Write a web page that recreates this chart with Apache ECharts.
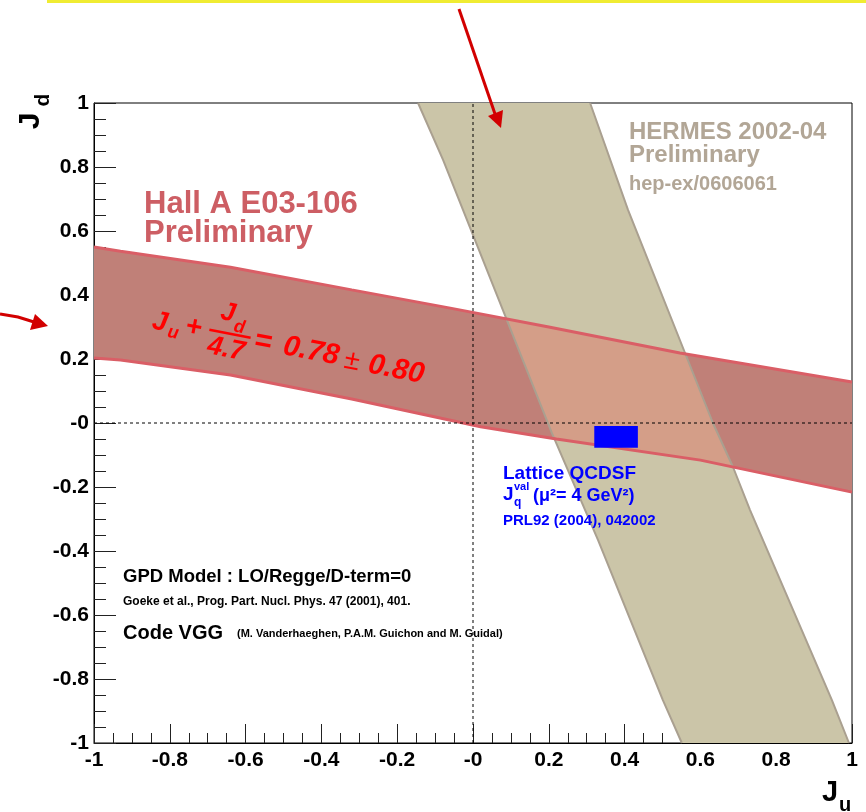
<!DOCTYPE html>
<html><head><meta charset="utf-8">
<script src="https://cdn.jsdelivr.net/npm/echarts@6/dist/echarts.min.js"></script>
<style>html,body{margin:0;padding:0;background:#fff}#c{width:866px;height:812px}</style>
</head><body><div id="c"></div>
<script>
const FONT = '"Liberation Sans", Arial, Helvetica, sans-serif';
// axis range / ticks
const axisMin = -1, axisMax = 1, tickStep = 0.2;
const zeroLabel = '-0';
// Hall A E03-106 band edges [Ju, Jd]
const hallUpper = [[-1,0.55],[-0.93,0.537],[-0.64,0.487],[-0.32,0.416],[-0.06,0.359],[0.2,0.30],[0.546,0.219],[1,0.128]];
const hallLower = [[-1,0.203],[-0.93,0.197],[-0.64,0.15],[-0.32,0.075],[0.02,-0.012],[0.22,-0.05],[0.6,-0.116],[1,-0.216]];
// HERMES band edges [Ju, Jd]
const hermesLeft = [[-0.145,1],[-0.079,0.822],[0.208,-0.031],[0.33,-0.366],[0.501,-0.866],[0.551,-1]];
const hermesRight = [[0.309,1],[0.409,0.666],[0.633,0],[0.686,-0.1375],[0.731,-0.272],[0.947,-0.866],[0.992,-1]];
// Lattice QCDSF box
const latticeJu = [0.32, 0.435];
const latticeJd = [-0.077, -0.009];
// dashed zero lines
const vZero = [[0,-1],[0,1]];
const hZero = [[-1,0],[1,0]];

const TAN = 'rgb(203,197,168)';
const RED_FILL = 'rgb(192,128,120)';
const OVERLAP = 'rgb(212,158,136)';
const RED_EDGE = 'rgb(218,94,102)';
const TAN_EDGE = 'rgb(170,160,144)';

// ---- geometry helpers (data space) ----
function interpX(edge, x) {
  if (x <= edge[0][0]) return edge[0][1];
  for (let i = 1; i < edge.length; i++) {
    if (x <= edge[i][0]) { const a = edge[i-1], b = edge[i]; return a[1] + (b[1]-a[1]) * (x-a[0]) / (b[0]-a[0]); }
  }
  return edge[edge.length-1][1];
}
function clipByCurve(poly, edge, keepBelow) {
  const inside = p => keepBelow ? p[1] <= interpX(edge, p[0]) : p[1] >= interpX(edge, p[0]);
  const cross = (a, b) => {
    let lo = 0, hi = 1; const ia = inside(a);
    for (let k = 0; k < 40; k++) {
      const m = (lo+hi)/2, p = [a[0]+(b[0]-a[0])*m, a[1]+(b[1]-a[1])*m];
      if (inside(p) === ia) lo = m; else hi = m;
    }
    const t = (lo+hi)/2; return [a[0]+(b[0]-a[0])*t, a[1]+(b[1]-a[1])*t];
  };
  const out = [];
  for (let i = 0; i < poly.length; i++) {
    const cur = poly[i], prev = poly[(i + poly.length - 1) % poly.length];
    const ci = inside(cur.p), pi = inside(prev.p);
    if (ci) { if (!pi) out.push({ p: cross(prev.p, cur.p), b: 'in' }); out.push({ p: cur.p, b: false }); }
    else if (pi) out.push({ p: cross(prev.p, cur.p), b: 'out' });
  }
  const res = [];
  for (let i = 0; i < out.length; i++) {
    res.push(out[i]);
    const nx = out[(i+1) % out.length];
    if (out[i].b === 'out' && nx.b === 'in') {
      const x0 = out[i].p[0], x1 = nx.p[0];
      let mids = edge.filter(v => (v[0] - x0) * (v[0] - x1) < 0);
      mids.sort((u, v) => x1 > x0 ? u[0]-v[0] : v[0]-u[0]);
      mids.forEach(v => res.push({ p: v, b: false }));
    }
  }
  return res.map(o => ({ p: o.p, b: false }));
}
const hermesPoly = hermesLeft.concat(hermesRight.slice().reverse());
let overlapPoly = hermesPoly.map(p => ({ p: p, b: false }));
overlapPoly = clipByCurve(overlapPoly, hallUpper, true);
overlapPoly = clipByCurve(overlapPoly, hallLower, false);
overlapPoly = overlapPoly.map(o => o.p);

function polyRender(points, style) {
  return function (params, api) {
    return { type: 'polygon', shape: { points: points.map(p => api.coord(p)) }, style: style };
  };
}
function fmt(v) { const r = Math.round(v * 10) / 10; return r === 0 ? zeroLabel : String(r); }

const chart = echarts.init(document.getElementById('c'));
const lbl = { fontSize: 21, fontWeight: 'bold', color: '#000', fontFamily: FONT, formatter: fmt };

function T(x, y, text, font, fill, align) {
  return { type: 'text', x: x, y: y, z: 100, style: { text: text, font: font + ' ' + FONT, fill: fill, align: align || 'left', verticalAlign: 'middle' } };
}
const RED = '#ff0000', BLUE = '#0000ff', HALL = 'rgb(205,94,100)', HERM = 'rgb(178,166,150)';

chart.setOption({
  animation: false,
  grid: { left: 94, right: 14, top: 103, bottom: 69, show: true, borderColor: '#000', borderWidth: 1, backgroundColor: 'transparent' },
  xAxis: { type: 'value', min: axisMin, max: axisMax, interval: tickStep,
    axisLine: { show: true, onZero: false, lineStyle: { color: '#000', width: 1 } },
    axisTick: { inside: true, length: 19, lineStyle: { color: '#222' } },
    minorTick: { show: true, splitNumber: 4, length: 10, lineStyle: { color: '#222' } },
    splitLine: { show: false },
    axisLabel: Object.assign({ margin: 7, showMinLabel: true, showMaxLabel: true }, lbl) },
  yAxis: { type: 'value', min: axisMin, max: axisMax, interval: tickStep,
    axisLine: { show: true, onZero: false, lineStyle: { color: '#000', width: 1 } },
    axisTick: { inside: true, length: 22, lineStyle: { color: '#222' } },
    minorTick: { show: true, splitNumber: 4, length: 12, lineStyle: { color: '#222' } },
    splitLine: { show: false },
    axisLabel: Object.assign({ margin: 5, showMinLabel: true, showMaxLabel: true }, lbl) },
  series: [
    { type: 'custom', z: 1, silent: true, data: [[0,0]], renderItem: polyRender(hermesPoly, { fill: TAN }) },
    { type: 'custom', z: 2, silent: true, data: [[0,0]], renderItem: polyRender(hallUpper.concat(hallLower.slice().reverse()), { fill: RED_FILL }) },
    { type: 'custom', z: 3, silent: true, data: [[0,0]], renderItem: polyRender(overlapPoly, { fill: OVERLAP }) },
    { type: 'line', z: 4, silent: true, data: hermesLeft, showSymbol: false, lineStyle: { color: TAN_EDGE, width: 2 } },
    { type: 'line', z: 4, silent: true, data: hermesRight, showSymbol: false, lineStyle: { color: TAN_EDGE, width: 2 } },
    { type: 'line', z: 5, silent: true, data: hallUpper, showSymbol: false, lineStyle: { color: RED_EDGE, width: 3 } },
    { type: 'line', z: 5, silent: true, data: hallLower, showSymbol: false, lineStyle: { color: RED_EDGE, width: 3 } },
    { type: 'line', z: 6, silent: true, data: vZero, showSymbol: false, lineStyle: { color: '#000', width: 1, type: [3,3] } },
    { type: 'line', z: 6, silent: true, data: hZero, showSymbol: false, lineStyle: { color: '#000', width: 1, type: [3,3] } },
    { type: 'custom', z: 7, silent: true, data: [[0,0]], renderItem: function (params, api) {
        const a = api.coord([latticeJu[0], latticeJd[1]]);
        const b = api.coord([latticeJu[1], latticeJd[0]]);
        return { type: 'rect', shape: { x: a[0], y: a[1], width: b[0]-a[0], height: b[1]-a[1] }, style: { fill: '#0000ff' } };
      } }
  ],
  graphic: [
    { type: 'rect', z: 100, shape: { x: 47, y: 0, width: 819, height: 3 }, style: { fill: 'rgb(240,236,50)' } },
    // arrows
    { type: 'line', z: 100, shape: { x1: 459, y1: 9, x2: 495, y2: 114 }, style: { stroke: '#d20000', lineWidth: 3 } },
    { type: 'polygon', z: 100, shape: { points: [[501,128],[503,110],[488,116]] }, style: { fill: '#d20000' } },
    { type: 'polyline', z: 100, shape: { points: [[0,314],[18,317],[34,322]] }, style: { stroke: '#d20000', lineWidth: 3, fill: null } },
    { type: 'polygon', z: 100, shape: { points: [[48,326],[35,314],[30,330]] }, style: { fill: '#d20000' } },
    // axis titles
    { type: 'group', x: 31, y: 121, z: 100, rotation: Math.PI/2, children: [
      { type: 'text', x: 0, y: 0, z: 100, style: { text: 'J', font: 'bold 30px ' + FONT, fill: '#000', align: 'center', verticalAlign: 'middle' } },
      { type: 'text', x: 21, y: 12, z: 100, style: { text: 'd', font: 'bold 21px ' + FONT, fill: '#000', align: 'center', verticalAlign: 'middle' } }
    ] },
    T(830, 793, 'J', 'bold 29px', '#000', 'center'),
    T(845, 805, 'u', 'bold 20px', '#000', 'center'),
    // Hall A
    T(144, 204, 'Hall A E03-106', 'bold 31px', HALL),
    T(144, 233, 'Preliminary', 'bold 31px', HALL),
    // HERMES
    T(629, 132, 'HERMES 2002-04', 'bold 24px', HERM),
    T(629, 155, 'Preliminary', 'bold 24px', HERM),
    T(629, 184, 'hep-ex/0606061', 'bold 20px', HERM),
    // formula
    { type: 'group', x: 153, y: 321, z: 100, rotation: -0.19, children: [
      T(7, 0, 'J', 'italic bold 27px', RED, 'center'),
      T(22, 8, 'u', 'italic bold 18px', RED, 'center'),
      T(41, -1, '+', 'italic bold 28px', RED, 'center'),
      T(72, -22, 'J', 'italic bold 26px', RED, 'center'),
      T(86, -10, 'd', 'italic bold 18px', RED, 'center'),
      { type: 'line', z: 100, shape: { x1: 57, y1: -2, x2: 99, y2: -2 }, style: { stroke: RED, lineWidth: 2.5 } },
      T(77, 14, '4.7', 'italic bold 27px', RED, 'center'),
      T(112, 0, '=', 'italic bold 30px', RED, 'center'),
      T(161, 0, '0.78', 'italic bold 29px', RED, 'center'),
      T(203, 2, '±', '28px', RED, 'center'),
      T(248, 2, '0.80', 'italic bold 29px', RED, 'center')
    ] },
    // Lattice
    T(503, 474, 'Lattice QCDSF', 'bold 19px', BLUE),
    T(503, 495, 'J', 'bold 19px', BLUE),
    T(514, 487, 'val', 'bold 11px', BLUE),
    T(514, 503, 'q', 'bold 12px', BLUE),
    T(533, 496, '(μ²= 4 GeV²)', 'bold 18px', BLUE),
    T(503, 521, 'PRL92 (2004), 042002', 'bold 15px', BLUE),
    // GPD model
    T(123, 577, 'GPD Model : LO/Regge/D-term=0', 'bold 18.5px', '#000'),
    T(123, 602, 'Goeke et al., Prog. Part. Nucl. Phys. 47 (2001), 401.', 'bold 12px', '#000'),
    T(123, 633, 'Code VGG', 'bold 20px', '#000'),
    T(237, 634, '(M. Vanderhaeghen, P.A.M. Guichon and M. Guidal)', 'bold 11px', '#000')
  ]
});
</script></body></html>
